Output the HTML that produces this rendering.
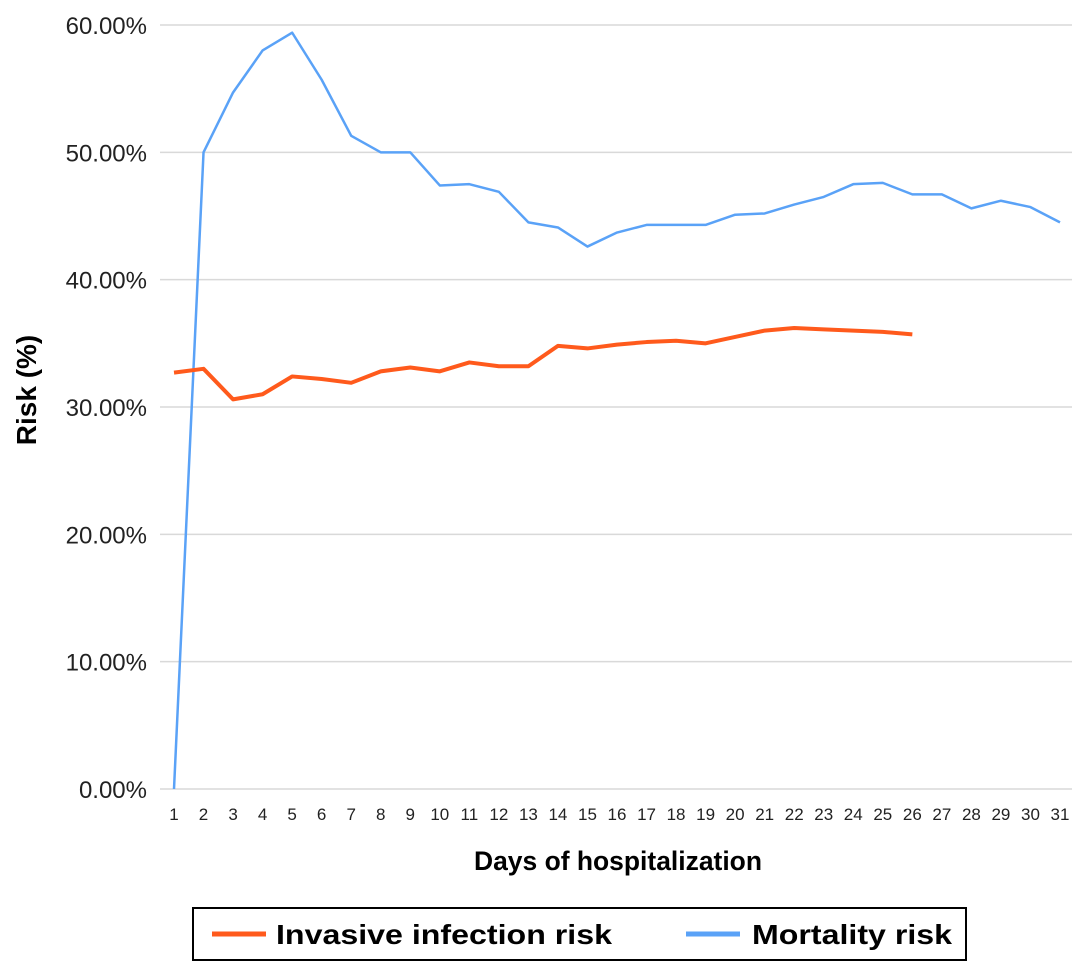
<!DOCTYPE html>
<html><head><meta charset="utf-8"><style>
body{margin:0;background:#fff;}
svg{display:block;font-family:"Liberation Sans",sans-serif;}
</style></head><body>
<svg id="chart" width="1087" height="973">
<g id="grid"></g>
<g id="yt"></g>
<g id="xt"></g>
<g id="series"></g>
<text x="36" y="390" transform="rotate(-90 36 390)" text-anchor="middle" font-size="28" font-weight="bold" fill="#000">Risk (%)</text>
<text x="618" y="870" text-anchor="middle" font-size="27" font-weight="bold" fill="#000" textLength="288" lengthAdjust="spacingAndGlyphs">Days of hospitalization</text>
<g>
<rect x="193" y="908" width="773" height="52" fill="#fff" stroke="#000" stroke-width="2"/>
<g>
<line x1="212" y1="934" x2="266" y2="934" stroke="#ff5a1c" stroke-width="5"/>
<text x="276" y="944" font-size="28" font-weight="bold" textLength="336" lengthAdjust="spacingAndGlyphs">Invasive infection risk</text></g>
<g>
<line x1="686" y1="934" x2="740" y2="934" stroke="#5aa2f7" stroke-width="5"/>
<text x="752" y="944" font-size="28" font-weight="bold" textLength="200" lengthAdjust="spacingAndGlyphs">Mortality risk</text></g>
</g>
</svg>
<script>
const days=[1,2,3,4,5,6,7,8,9,10,11,12,13,14,15,16,17,18,19,20,21,22,23,24,25,26,27,28,29,30,31];
const mortality=[0,50,54.7,58,59.4,55.7,51.3,50,50,47.4,47.5,46.9,44.5,44.1,42.6,43.7,44.3,44.3,44.3,45.1,45.2,45.9,46.5,47.5,47.6,46.7,46.7,45.6,46.2,45.7,44.5];
const infection=[32.7,33.0,30.6,31.0,32.4,32.2,31.9,32.8,33.1,32.8,33.5,33.2,33.2,34.8,34.6,34.9,35.1,35.2,35.0,35.5,36.0,36.2,36.1,36.0,35.9,35.7];
const yTicks=[0,10,20,30,40,50,60];
const NS="http://www.w3.org/2000/svg";
const x=d=>174+(d-1)*(1060-174)/30;
const y=v=>789-v*(789-25)/60;
function mk(tag,attrs,parent){const e=document.createElementNS(NS,tag);for(const k in attrs)e.setAttribute(k,attrs[k]);document.getElementById(parent).appendChild(e);return e;}
yTicks.forEach(t=>{
 const l=mk('line',{x1:160,x2:1072,y1:y(t),y2:y(t),stroke:'#d9d9d9','stroke-width':1.5},'grid');
 
 
 const tx=mk('text',{x:147,y:y(t)+9,'text-anchor':'end','font-size':24,fill:'#222'},'yt');
 tx.textContent=t.toFixed(2)+'%';
 
 
});
days.forEach(d=>{
 const tx=mk('text',{x:x(d),y:820,'text-anchor':'middle','font-size':17,fill:'#222'},'xt');
 tx.textContent=d;
 
 
});
function line(vals,color,w,name){
 const p=mk('polyline',{points:vals.map((v,i)=>x(days[i])+','+y(v)).join(' '),fill:'none',stroke:color,'stroke-width':w,'stroke-linejoin':'round'},'series');
 
 
}
line(mortality,'#5aa2f7',2.5,'mortality-line');
line(infection,'#ff5a1c',4,'infection-line');
</script>
</body></html>
